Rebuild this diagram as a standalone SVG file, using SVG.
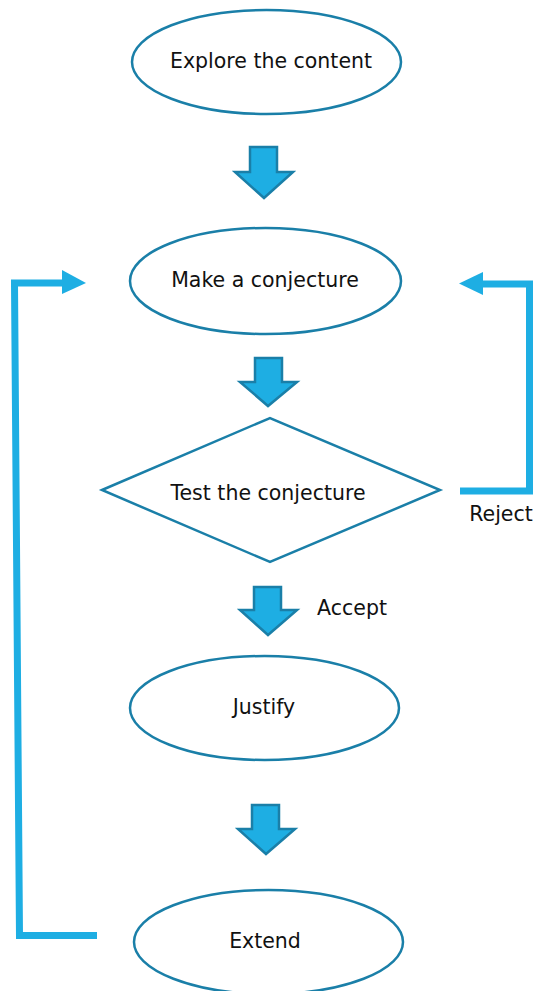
<svg xmlns="http://www.w3.org/2000/svg" width="537" height="991" viewBox="0 0 537 991">
<style>
.shape{fill:#fff;stroke:#1a7fa8;stroke-width:2.5}
.blk{fill:#1eaee3;stroke:#1a7fa8;stroke-width:2.5;stroke-linejoin:miter}
.conn{fill:none;stroke:#1eaee3;stroke-width:7}
.head{fill:#1eaee3}
text{font-family:"DejaVu Sans","Liberation Sans",sans-serif;font-size:20.5px;fill:#111;text-anchor:middle}
</style>
<rect width="537" height="991" fill="#fff"/>
<g id="explore"><ellipse class="shape" cx="266.5" cy="62" rx="134.5" ry="52"/><text x="271" y="68">Explore the content</text></g>
<g id="conjecture"><ellipse class="shape" cx="265.5" cy="281" rx="135.5" ry="53"/><text x="265" y="287">Make a conjecture</text></g>
<g id="test"><polygon class="shape" points="102,490 270,418 440,490 270,562"/><text x="268" y="500">Test the conjecture</text></g>
<g id="justify"><ellipse class="shape" cx="264.5" cy="708" rx="134.5" ry="52"/><text x="264" y="714">Justify</text></g>
<g id="extend"><ellipse class="shape" cx="268.5" cy="942" rx="134.5" ry="52"/><text x="265" y="948">Extend</text></g>
<g id="connectors">
<polygon class="blk" points="250,147 277,147 277,172 293,172 264,198 235,172 250,172"/>
<polygon class="blk" points="255,358 282,358 282,382 297,382 268,406 240,382 255,382"/>
<polygon class="blk" points="254,587 281,587 281,610 297,610 268,635 240,610 254,610"/>
<polygon class="blk" points="252,805 279,805 279,829 295,829 266,854 238,829 252,829"/>
<polyline class="conn" points="97,935.5 19.5,935.5 14.5,283 64,283"/>
<polygon class="head" points="62,270 86,283 62,294"/>
<polyline class="conn" points="460,491 529.5,491 529.5,284 481,284"/>
<polygon class="head" points="483,272 459,283.5 483,295"/>
<text x="501" y="521">Reject</text>
<text x="352" y="615">Accept</text>
</g>
</svg>
